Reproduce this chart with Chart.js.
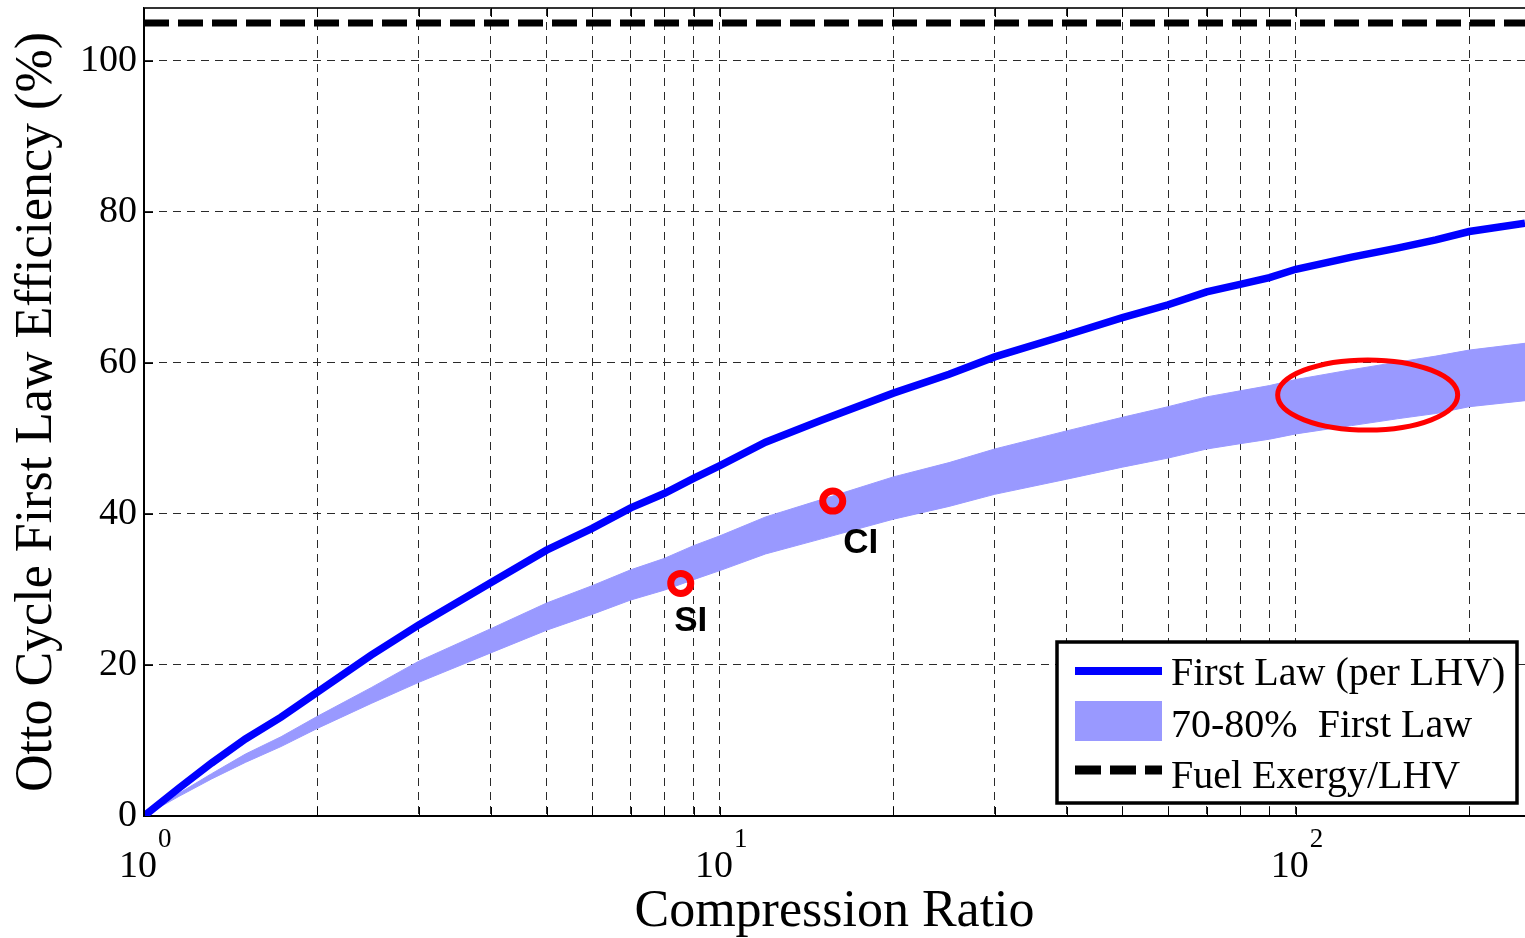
<!DOCTYPE html>
<html>
<head>
<meta charset="utf-8">
<script src="https://cdn.jsdelivr.net/npm/chart.js@4.4.1/dist/chart.umd.min.js"></script>
<style>
  html, body { margin: 0; padding: 0; background: #fff; }
</style>
</head>
<body>
<canvas id="chart" width="1525" height="938"></canvas>
<script>
const ratios = [1, 1.15, 1.31, 1.5, 1.73, 2, 2.48, 3, 4, 5, 6, 7, 8, 9, 10, 12, 15, 20, 25, 30, 40, 50, 60, 70, 80, 90, 100, 125, 150, 175, 200, 250];
// first law efficiency (%)
const firstLaw = [0, 3.7, 7.0, 10.2, 13.1, 16.4, 21.3, 25.3, 30.9, 35.2, 38.1, 40.8, 42.7, 44.7, 46.4, 49.5, 52.4, 56.0, 58.5, 60.8, 63.7, 66.0, 67.7, 69.4, 70.4, 71.3, 72.4, 74.0, 75.2, 76.3, 77.4, 78.5];
// 70-80% band edges
const band80 = [0, 3.0, 5.6, 8.2, 10.5, 13.2, 17.0, 20.5, 24.8, 28.2, 30.5, 32.6, 34.1, 35.8, 37.1, 39.6, 41.9, 44.9, 46.8, 48.6, 51.0, 52.8, 54.2, 55.5, 56.3, 57.0, 57.8, 59.1, 60.1, 60.9, 61.7, 62.6];
const band70 = [0, 2.6, 4.9, 7.1, 9.2, 11.6, 14.9, 17.7, 21.6, 24.6, 26.7, 28.6, 29.9, 31.3, 32.5, 34.7, 36.7, 39.3, 41.0, 42.6, 44.6, 46.2, 47.4, 48.6, 49.3, 49.9, 50.6, 51.7, 52.6, 53.3, 54.2, 55.0];
// fuel exergy / LHV
const exergyRatios = [1, 250];
const exergyLHV = [105, 105];
// engine points
const engineLabels = ['SI', 'CI'];
const engineRatios = [8.55, 15.7];
const engineEff = [30.8, 41.7];
// highlighted region (ellipse extents)
const ellipseX = [93, 191];
const ellipseY = [51.1, 60.4];

const yTicks = [0, 20, 40, 60, 80, 100];
const decadeTicks = [1, 10, 100];
const decadeExps = ['0', '1', '2'];
const legendLabels = ['First Law (per LHV)', '70-80%  First Law', 'Fuel Exergy/LHV'];

const BLUE = '#0000ff';
const BAND = '#9999ff';
const SERIF = '"Liberation Serif", "Times New Roman", serif';

function pts(xs, ys) {
    return xs.map((x, i) => ({ x: x, y: ys[i] }));
}

function niceLog(v) {
    const e = Math.floor(Math.log10(v) + 1e-9);
    const m = v / Math.pow(10, e);
    return Math.abs(m - Math.round(m)) < 1e-6;
}

const overlay = {
    id: 'overlay',
    afterDatasetsDraw(chart) {
        const ctx = chart.ctx;
        const x = chart.scales.x, y = chart.scales.y;

        // red ellipse
        const x1 = x.getPixelForValue(ellipseX[0]), x2 = x.getPixelForValue(ellipseX[1]);
        const y1 = y.getPixelForValue(ellipseY[0]), y2 = y.getPixelForValue(ellipseY[1]);
        ctx.save();
        ctx.strokeStyle = '#ff0000';
        ctx.lineWidth = 5;
        ctx.beginPath();
        ctx.ellipse((x1 + x2) / 2, (y1 + y2) / 2, (x2 - x1) / 2, (y1 - y2) / 2, 0, 0, Math.PI * 2);
        ctx.stroke();

        // SI / CI labels
        const offs = [[10, 38], [28, 42]];
        ctx.fillStyle = '#000';
        ctx.font = 'bold 35px "Liberation Sans", Arial, sans-serif';
        ctx.textAlign = 'center';
        ctx.textBaseline = 'middle';
        engineLabels.forEach((lab, i) => {
            const px = x.getPixelForValue(engineRatios[i]);
            const py = y.getPixelForValue(engineEff[i]);
            ctx.fillText(lab, px + offs[i][0], py + offs[i][1]);
        });
        ctx.restore();
    },
    afterDraw(chart) {
        const ctx = chart.ctx;
        const area = chart.chartArea;
        const x = chart.scales.x, y = chart.scales.y;
        ctx.save();

        // top frame line
        ctx.strokeStyle = '#333';
        ctx.lineWidth = 2;
        ctx.beginPath();
        ctx.moveTo(area.left, area.top);
        ctx.lineTo(area.right, area.top);
        ctx.stroke();

        // inner tick marks
        ctx.strokeStyle = '#000';
        ctx.lineWidth = 1;
        ctx.beginPath();
        x.ticks.forEach(t => {
            const px = Math.round(x.getPixelForValue(t.value)) + 0.5;
            ctx.moveTo(px, area.bottom);
            ctx.lineTo(px, area.bottom - 9);
            ctx.moveTo(px, area.top);
            ctx.lineTo(px, area.top + 9);
        });
        y.ticks.forEach(t => {
            const py = Math.round(y.getPixelForValue(t.value)) + 0.5;
            ctx.moveTo(area.left, py);
            ctx.lineTo(area.left + 9, py);
        });
        ctx.stroke();

        // x tick labels 10^n
        ctx.fillStyle = '#000';
        ctx.textBaseline = 'alphabetic';
        decadeTicks.forEach((d, i) => {
            const px = x.getPixelForValue(d);
            ctx.font = '38px ' + SERIF;
            ctx.textAlign = 'right';
            ctx.fillText('10', px + 13, area.bottom + 61);
            ctx.font = '27px ' + SERIF;
            ctx.textAlign = 'left';
            ctx.fillText(decadeExps[i], px + 14, area.bottom + 31);
        });

        // legend box
        const lw = 460, lh = 161;
        const lx = area.right - 8 - lw, ly = area.bottom - 13 - lh;
        ctx.fillStyle = '#fff';
        ctx.fillRect(lx, ly, lw, lh);
        ctx.strokeStyle = '#000';
        ctx.lineWidth = 3.5;
        ctx.strokeRect(lx, ly, lw, lh);

        const sx = lx + 18, sw = 87;
        ctx.strokeStyle = BLUE;
        ctx.lineWidth = 8;
        ctx.beginPath();
        ctx.moveTo(sx, ly + 29);
        ctx.lineTo(sx + sw, ly + 29);
        ctx.stroke();

        ctx.fillStyle = BAND;
        ctx.fillRect(sx, ly + 59, sw, 40);

        ctx.strokeStyle = '#000';
        ctx.lineWidth = 9;
        ctx.setLineDash([26, 9]);
        ctx.beginPath();
        ctx.moveTo(sx, ly + 128);
        ctx.lineTo(sx + sw, ly + 128);
        ctx.stroke();
        ctx.setLineDash([]);

        ctx.fillStyle = '#000';
        ctx.font = '40px ' + SERIF;
        ctx.textAlign = 'left';
        const baselines = [43, 95, 146];
        legendLabels.forEach((lab, i) => {
            ctx.fillText(lab, lx + 114, ly + baselines[i]);
        });
        ctx.restore();
    }
};

const gridStyle = { color: '#2a2a2a', lineWidth: 1, drawTicks: false };
const borderStyle = { display: true, color: '#000', width: 2, dash: [8, 6] };

new Chart(document.getElementById('chart').getContext('2d'), {
    type: 'line',
    data: {
        datasets: [
            {
                label: '70%',
                data: pts(ratios, band70),
                borderColor: BAND,
                borderWidth: 1,
                pointRadius: 0,
                fill: false,
                order: 5
            },
            {
                label: legendLabels[1],
                data: pts(ratios, band80),
                borderColor: BAND,
                borderWidth: 1,
                backgroundColor: BAND,
                pointRadius: 0,
                fill: '-1',
                order: 4
            },
            {
                label: legendLabels[0],
                data: pts(ratios, firstLaw),
                borderColor: BLUE,
                borderWidth: 7.5,
                pointRadius: 0,
                fill: false,
                order: 3
            },
            {
                label: 'engines',
                data: pts(engineRatios, engineEff),
                showLine: false,
                pointRadius: 10,
                pointBorderWidth: 7,
                pointBorderColor: '#ff0000',
                pointBackgroundColor: 'rgba(0,0,0,0)',
                order: 2
            },
            {
                label: legendLabels[2],
                data: pts(exergyRatios, exergyLHV),
                borderColor: '#000',
                borderWidth: 7,
                borderDash: [25, 9],
                pointRadius: 0,
                fill: false,
                order: 1
            }
        ]
    },
    options: {
        responsive: false,
        animation: false,
        layout: { autoPadding: false, padding: { top: 8, right: 0, left: 0, bottom: 0 } },
        plugins: {
            legend: { display: false },
            tooltip: { enabled: false }
        },
        scales: {
            x: {
                type: 'logarithmic',
                min: 1,
                max: 250,
                afterFit(s) {
                    s.height = 122;
                    s.paddingLeft = 0;
                    s.paddingRight = 0;
                },
                afterBuildTicks(s) { s.ticks = s.ticks.filter(t => niceLog(t.value)); },
                ticks: { display: false, autoSkip: false },
                grid: gridStyle,
                border: borderStyle,
                title: {
                    display: true,
                    text: 'Compression Ratio',
                    color: '#000',
                    font: { family: SERIF, size: 52, lineHeight: 1 },
                    padding: 0
                }
            },
            y: {
                min: 0,
                max: 107,
                afterFit(s) {
                    s.width = 144;
                    s.paddingTop = 0;
                    s.paddingBottom = 0;
                },
                afterBuildTicks(s) { s.ticks = yTicks.map(v => ({ value: v })); },
                ticks: { color: '#000', font: { family: SERIF, size: 38 }, padding: 7 },
                grid: gridStyle,
                border: borderStyle,
                title: {
                    display: true,
                    text: 'Otto Cycle First Law Efficiency (%)',
                    color: '#000',
                    font: { family: SERIF, size: 52, lineHeight: 1 },
                    padding: { top: 11, bottom: 0 }
                }
            }
        }
    },
    plugins: [overlay]
});
</script>
</body>
</html>
